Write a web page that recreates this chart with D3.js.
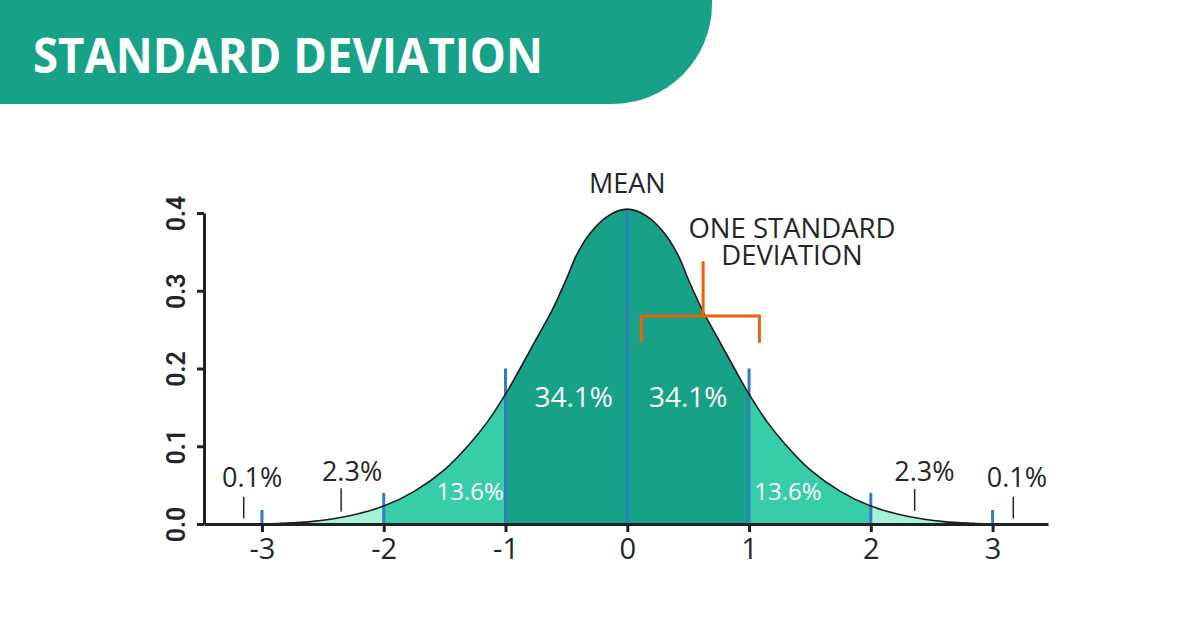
<!DOCTYPE html>
<html>
<head>
<meta charset="utf-8">
<script src="https://cdn.jsdelivr.net/npm/d3@7/dist/d3.min.js"></script>
<style>
  html, body { margin: 0; padding: 0; background: #ffffff; }
  svg { display: block; font-family: "Open Sans", "Noto Sans", sans-serif; }
</style>
</head>
<body>
<svg id="chart" width="1200" height="620"></svg>
<script>
// ---- data ----
const curveX = [-3.45, -3.0, -2.85, -2.6, -2.3, -2.0, -1.75, -1.5, -1.3, -1.15, -1.0, -0.88, -0.75, -0.62, -0.5, -0.42, -0.3, -0.15, 0,
                0.15, 0.3, 0.42, 0.5, 0.62, 0.75, 0.88, 1.0, 1.15, 1.3, 1.5, 1.75, 2.0, 2.3, 2.6, 2.85, 3.0, 3.45];
const curveY = [0, 0, 0.0008, 0.003, 0.01, 0.023, 0.042, 0.07, 0.102, 0.131, 0.167, 0.2, 0.237, 0.274, 0.315, 0.345, 0.375, 0.397, 0.405,
                0.397, 0.375, 0.345, 0.315, 0.274, 0.237, 0.2, 0.167, 0.131, 0.102, 0.07, 0.042, 0.023, 0.01, 0.003, 0.0008, 0, 0];
const sigmaMarks = [-3, -2, -1, 0, 1, 2, 3];
const sigmaMarkHeights = [0.018, 0.04, 0.2, 0.405, 0.2, 0.04, 0.018];
const xTickValues = [-3, -2, -1, 0, 1, 2, 3];
const xTickLabels = ["-3", "-2", "-1", "0", "1", "2", "3"];
const yTickValues = [0.0, 0.1, 0.2, 0.3, 0.4];
const yTickLabels = ["0.0", "0.1", "0.2", "0.3", "0.4"];
const bandLabels = ["0.1%", "2.3%", "13.6%", "34.1%", "34.1%", "13.6%", "2.3%", "0.1%"];
const bandLabelX = [-3.08, -2.26, -1.29, -0.44, 0.5, 1.32, 2.44, 3.2];
const bandLabelY = [0.048, 0.055, 0.031, 0.151, 0.151, 0.031, 0.055, 0.048];
const pointerX = [-3.15, -2.35, 2.36, 3.17];
const pointerTop = [0.035, 0.046, 0.045, 0.035];
const pointerBottom = [0.007, 0.016, 0.017, 0.007];
const titleText = "STANDARD DEVIATION";
const meanText = "MEAN";
const sdText = ["ONE STANDARD", "DEVIATION"];

// ---- styles ----
const C = {
  banner: "#17a287", dark: "#17a287", mid: "#36cda8", light: "#a6f2d8",
  blue: "#2e7ec0", orange: "#ea620c", ink: "#232629", axis: "#1f2326"
};

const svg = d3.select("#chart");

// banner
svg.append("path")
  .attr("d", "M0,0 H712 V4 A100,100 0 0 1 612,104 H0 Z")
  .attr("fill", C.banner);
svg.append("text")
  .attr("x", 33).attr("y", 73)
  .attr("fill", "#fff")
  .attr("font-size", 49).attr("font-weight", 700)
  .attr("textLength", 510).attr("lengthAdjust", "spacingAndGlyphs")
  .text(titleText);

// scales
const x = d3.scaleLinear().domain([-3.476, 3.455]).range([204, 1048]);
const y = d3.scaleLinear().domain([0, 0.4]).range([524, 213]);

const pts = curveX.map((d, i) => [d, curveY[i]]);
const curveType = d3.curveCatmullRom.alpha(0.5);
const area = d3.area().x(d => x(d[0])).y0(y(0)).y1(d => y(d[1])).curve(curveType);
const line = d3.line().x(d => x(d[0])).y(d => y(d[1])).curve(curveType);

const defs = svg.append("defs");
const bands = [
  { id: "clipAll", from: -3.476, to: 3.455, color: C.light },
  { id: "clip2", from: -2, to: 2, color: C.mid },
  { id: "clip1", from: -1, to: 1, color: C.dark }
];
bands.forEach(b => {
  defs.append("clipPath").attr("id", b.id)
    .append("rect")
    .attr("x", x(b.from)).attr("y", 0)
    .attr("width", x(b.to) - x(b.from)).attr("height", 620);
  svg.append("path")
    .attr("d", area(pts))
    .attr("fill", b.color)
    .attr("clip-path", `url(#${b.id})`);
});

// sigma markers
svg.append("g").selectAll("line").data(sigmaMarks).join("line")
  .attr("x1", d => x(d)).attr("x2", d => x(d))
  .attr("y1", y(0)).attr("y2", (d, i) => y(sigmaMarkHeights[i]))
  .attr("stroke", C.blue).attr("stroke-width", 3);

// curve outline
svg.append("path")
  .attr("d", line(pts))
  .attr("fill", "none").attr("stroke", "#1b1b1b").attr("stroke-width", 1.6);

// axes
const xAxis = d3.axisBottom(x).tickValues(xTickValues)
  .tickFormat((d, i) => xTickLabels[i]).tickSize(8).tickSizeOuter(0).tickPadding(6);
const gx = svg.append("g").attr("transform", `translate(0,${y(0)})`).call(xAxis);
gx.select(".domain").attr("stroke", C.axis).attr("stroke-width", 3);
gx.selectAll(".tick line").attr("stroke", C.axis).attr("stroke-width", 3);
gx.selectAll(".tick text")
  .attr("fill", C.ink).attr("font-size", 29).attr("font-weight", 500)
  .attr("font-family", "'Open Sans', sans-serif");

const yAxis = d3.axisLeft(y).tickValues(yTickValues)
  .tickFormat((d, i) => yTickLabels[i]).tickSize(7).tickSizeOuter(0);
const gy = svg.append("g").attr("transform", `translate(${x.range()[0]},0)`).call(yAxis);
gy.select(".domain").attr("stroke", C.axis).attr("stroke-width", 3);
gy.selectAll(".tick line").attr("stroke", C.axis).attr("stroke-width", 3);
gy.selectAll(".tick text")
  .attr("x", 0).attr("y", 0).attr("dy", null)
  .attr("transform", "translate(-28,0) rotate(-90)")
  .attr("text-anchor", "middle")
  .attr("dominant-baseline", "central")
  .attr("fill", C.ink).attr("font-size", 25).attr("font-weight", 600)
  .attr("font-family", "Roboto, 'Open Sans', sans-serif");

// band labels
svg.append("g").selectAll("text").data(bandLabels).join("text")
  .attr("x", (d, i) => x(bandLabelX[i]))
  .attr("y", (d, i) => y(bandLabelY[i]))
  .attr("text-anchor", "middle")
  .attr("fill", (d, i) => (i >= 2 && i <= 5) ? "#ffffff" : C.ink)
  .attr("font-size", (d, i) => (i === 3 || i === 4) ? 28 : (i === 2 || i === 5) ? 24 : 27)
  .attr("font-weight", 500)
  .text(d => d);

// pointer ticks for tail labels
svg.append("g").selectAll("line").data(pointerX).join("line")
  .attr("x1", d => x(d)).attr("x2", d => x(d))
  .attr("y1", (d, i) => y(pointerTop[i])).attr("y2", (d, i) => y(pointerBottom[i]))
  .attr("stroke", C.ink).attr("stroke-width", 1.5);

// MEAN label
svg.append("text")
  .attr("x", x(0)).attr("y", 193)
  .attr("text-anchor", "middle").attr("fill", C.ink)
  .attr("font-size", 27).attr("font-weight", 500)
  .text(meanText);

// one standard deviation label (two lines in one text block)
const sd = svg.append("text")
  .attr("x", 792).attr("y", 238)
  .attr("text-anchor", "middle").attr("fill", C.ink)
  .attr("font-size", 27.5).attr("font-weight", 500);
sd.selectAll("tspan").data(sdText).join("tspan")
  .attr("x", 792).attr("dy", (d, i) => i === 0 ? 0 : 27)
  .text(d => d);

// orange bracket
const bx0 = x(0.115), bx1 = x(1.085), bxc = x(0.623);
const by = y(0.2675), byLeg = y(0.233), byTop = y(0.338);
svg.append("path")
  .attr("d", `M${bx0},${byLeg} V${by} H${bx1} V${byLeg} M${bxc},${by} V${byTop}`)
  .attr("fill", "none").attr("stroke", C.orange).attr("stroke-width", 3);
</script>
</body>
</html>
